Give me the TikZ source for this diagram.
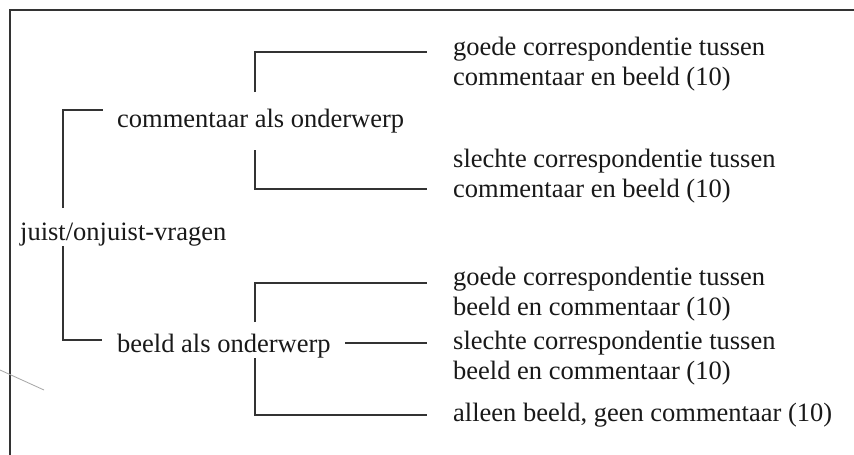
\documentclass[tikz,border=0pt]{standalone}
\usepackage{fontspec}
\setmainfont{Liberation Serif}
\begin{document}
\begin{tikzpicture}[x=1pt,y=-1pt,
  conn/.style={line width=2.2pt,draw=black!80},
  frame/.style={line width=2.8pt,draw=black!80},
  lbl/.style={inner sep=0pt,anchor=base west,text=black!90,font=\fontsize{26.5}{30}\selectfont,align=left}]
\useasboundingbox (0,0) rectangle (854,455);
\fill[white] (0,0) rectangle (854,455);
% frame (top and left only visible)
\draw[frame] (10,460) -- (10,10) -- (860,10);
% scan artefact
\draw[black!35,line width=0.8pt] (0,370) -- (44,390);
% texts (base anchor of a two-line node is the baseline of its last line)
\node[lbl] (jv) at (20,240) {juist/onjuist-vragen};
\node[lbl] (cao) at (117,127) {commentaar als onderwerp};
\node[lbl] (bao) at (117,352) {beeld als onderwerp};
\node[lbl] (g1) at (453,85) {goede correspondentie tussen\\commentaar en beeld (10)};
\node[lbl] (s1) at (453,197) {slechte correspondentie tussen\\commentaar en beeld (10)};
\node[lbl] (g2) at (453,315) {goede correspondentie tussen\\beeld en commentaar (10)};
\node[lbl] (s2) at (453,379) {slechte correspondentie tussen\\beeld en commentaar (10)};
\node[lbl] (a2) at (453,421) {alleen beeld, geen commentaar (10)};
% connector end points
\coordinate (jvT) at (63,208); \coordinate (jvB) at (63,246);
\coordinate (caoE) at (103,110); \coordinate (baoE) at (102,340);
\coordinate (caoT) at (255,92); \coordinate (caoB) at (255,150);
\coordinate (g1E) at (427,52); \coordinate (s1E) at (427,189);
\coordinate (baoT) at (255,322); \coordinate (baoB) at (255,358);
\coordinate (baoR) at (345,343);
\coordinate (g2E) at (427,283); \coordinate (s2E) at (427,343); \coordinate (a2E) at (427,415);
% connectors
\draw[conn] (jvT) |- (caoE);
\draw[conn] (jvB) |- (baoE);
\draw[conn] (caoT) |- (g1E);
\draw[conn] (caoB) |- (s1E);
\draw[conn] (baoT) |- (g2E);
\draw[conn] (baoR) -- (s2E);
\draw[conn] (baoB) |- (a2E);
\end{tikzpicture}
\end{document}
